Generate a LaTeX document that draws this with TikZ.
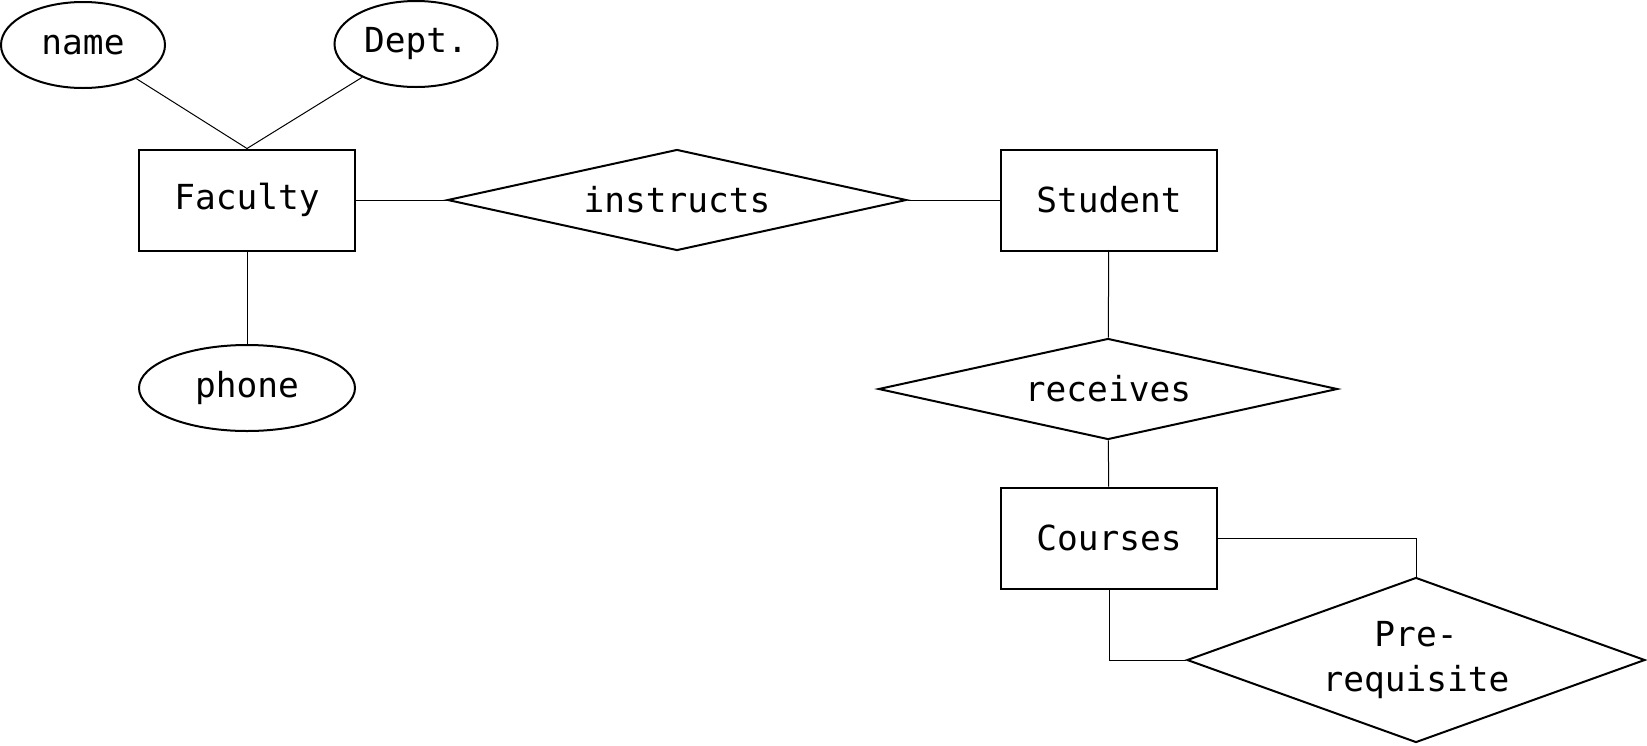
\documentclass[tikz,border=0pt]{standalone}
\usepackage{fontspec}
\setmonofont{DejaVu Sans Mono}
\usetikzlibrary{shapes.geometric,positioning}

\begin{document}
\begin{tikzpicture}[x=1pt,y=-1pt,
    every node/.style={font=\ttfamily\fontsize{34.5}{45}\selectfont,inner sep=0pt},
    entity/.style={rectangle,draw,line width=2pt,minimum width=216pt,minimum height=101pt},
    attr/.style={ellipse,draw,line width=2pt,minimum height=86pt},
    rel/.style={diamond,draw,line width=2pt,aspect=4.545,minimum width=459pt,minimum height=101pt},
    link/.style={line width=1pt}]
  \useasboundingbox (0,0) rectangle (1647,745);
  \node[entity] (faculty) at (247,200) {Faculty};
  \node[entity] (student) at (1109,200) {Student};
  \node[entity] (courses) at (1109,538) {Courses};
  \node[attr,minimum width=164pt] (name) at (83,45) {name};
  \node[attr,minimum width=163pt] (dept) at (416,44) {Dept.};
  \node[attr,minimum width=216pt] (phone) at (247,388) {phone};
  \node[rel] (instructs) at (677,200) {instructs};
  \node[rel] (receives) at (1108,389) {receives};
  \node[rel,aspect=2.776,minimum width=458pt,minimum height=165pt,align=center] (prereq) at (1416,660) {Pre-\\requisite};
  \path[link]
    (name) edge (faculty.north)
    (dept) edge (faculty.north)
    (faculty) edge (phone)
    (faculty) edge (instructs)
    (instructs) edge (student)
    (student) edge (receives)
    (receives) edge (courses);
  \draw[link] (courses.east) -| (prereq.north);
  \draw[link] (courses.south) |- (prereq.west);
\end{tikzpicture}
\end{document}
